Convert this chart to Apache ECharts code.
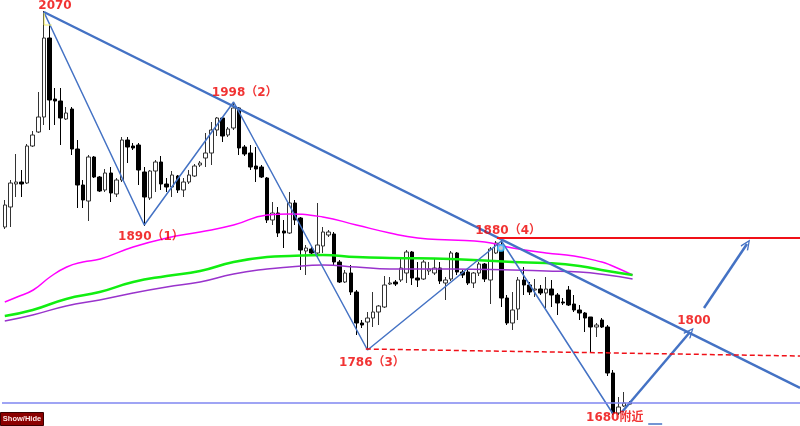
<!DOCTYPE html>
<html><head><meta charset="utf-8">
<script src="https://cdn.jsdelivr.net/npm/echarts@6/dist/echarts.min.js"></script>
<style>html,body{margin:0;padding:0;background:#fff}#c{width:800px;height:426px}</style>
</head><body><div id="c"></div>
<script>
// OHLC candles: [open, close, low, high]
const candles = [
[1855,1877,1853,1882],[1875,1899,1855,1902],[1898,1900,1885,1928],[1900,1898,1885,1912],[1899,1936,1898,1938],
[1936,1947,1935,1951],[1950,1965,1949,1990],[1965,2044,1957,2071],[2044,1982,1952,2057],[1983,1981,1957,1994],
[1981,1964,1937,1994],[1963,1969,1962,1975],[1973,1933,1927,1975],[1933,1897,1874,1942],[1897,1882,1874,1902],
[1881,1925,1861,1927],[1925,1905,1904,1926],[1905,1891,1890,1906],[1892,1909,1890,1913],[1909,1889,1880,1915],
[1888,1902,1885,1904],[1902,1942,1900,1945],[1942,1935,1919,1945],[1936,1934,1932,1939],[1937,1912,1897,1939],
[1910,1885,1856,1915],[1884,1911,1882,1912],[1911,1920,1890,1922],[1920,1898,1892,1926],[1898,1895,1890,1904],
[1895,1907,1885,1911],[1906,1892,1889,1907],[1892,1900,1885,1904],[1900,1907,1898,1912],[1906,1916,1905,1918],
[1917,1919,1915,1921],[1924,1929,1915,1949],[1929,1952,1917,1960],[1952,1964,1946,1965],[1964,1946,1940,1965],
[1947,1953,1945,1955],[1954,1974,1952,1980],[1974,1934,1927,1975],[1935,1928,1926,1937],[1929,1915,1912,1937],
[1916,1913,1900,1935],[1915,1905,1904,1917],[1904,1862,1859,1905],[1862,1869,1857,1880],[1869,1849,1845,1875],
[1851,1849,1834,1862],[1849,1879,1848,1890],[1879,1862,1857,1882],[1864,1832,1812,1865],[1831,1834,1807,1837],
[1833,1829,1827,1835],[1829,1837,1824,1879],[1836,1850,1829,1855],[1847,1850,1845,1852],[1848,1820,1817,1850],
[1820,1800,1799,1822],[1800,1809,1799,1812],[1809,1790,1787,1817],[1790,1759,1747,1792],[1759,1757,1754,1762],
[1760,1764,1732,1770],[1764,1770,1755,1790],[1770,1776,1757,1777],[1775,1797,1774,1806],[1798,1799,1797,1805],
[1800,1798,1796,1802],[1802,1814,1800,1824],[1809,1830,1799,1832],[1830,1804,1797,1831],[1804,1802,1795,1820],
[1803,1820,1802,1822],[1811,1813,1807,1820],[1809,1814,1807,1823],[1814,1801,1798,1820],[1799,1802,1782,1805],
[1803,1829,1801,1831],[1829,1810,1807,1830],[1810,1807,1804,1812],[1810,1799,1797,1812],[1799,1809,1794,1810],
[1809,1818,1806,1820],[1818,1803,1800,1819],[1802,1833,1778,1835],[1829,1839,1828,1841],[1837,1784,1775,1843],
[1784,1759,1757,1787],[1759,1772,1752,1790],[1773,1802,1762,1805],[1802,1797,1787,1815],[1797,1790,1787,1800],
[1792,1793,1785,1803],[1793,1789,1787,1797],[1789,1793,1774,1805],[1793,1787,1775,1802],[1787,1779,1767,1789],
[1780,1779,1777,1784],[1792,1777,1776,1796],[1778,1772,1770,1787],[1772,1769,1762,1777],[1769,1764,1750,1770],
[1765,1755,1730,1765],[1755,1757,1745,1759],[1762,1755,1754,1764],[1755,1709,1706,1757],[1709,1669,1667,1712],
[1669,1675,1667,1685],[1676,1679,1675,1690],[1679,1678,1677,1681]
];
const totalSlots = 143;

// moving averages sampled along the bar index: [barIndex, price]
const maMagenta = [[0,1780],[2.2,1785],[5.1,1792],[8.1,1805],[11.1,1815],[14,1820],[17.1,1823],[23,1835],[29,1844],[35,1850],[41,1857],[47,1867],[51,1868],[57,1865],[63,1857],[69,1849],[74,1844],[80,1842],[86,1840],[91,1834],[97,1829],[102,1826],[107,1820],[108.5,1817],[112.5,1807]];
const maGreen = [[0,1766],[5,1772],[11,1783],[17,1790],[23,1800],[29,1806],[35,1811],[41,1820],[47,1825],[51,1826],[57,1827],[63,1825],[69,1824],[80,1823],[91,1820],[97,1819],[103,1816],[108,1811],[112.5,1807]];
const maPurple = [[0,1761],[5,1767],[11,1776],[17,1782],[23,1789],[29,1795],[35,1800],[41,1808],[47,1813],[51,1815],[57,1817],[63,1815],[69,1813],[80,1813],[91,1812],[97,1811],[103,1810],[108,1807],[112.5,1803]];

// analysis drawings: [barIndex, price]
const zigzag = [[7,2070],[25,1857],[41,1980],[65,1732],[89,1841],[109,1668]];
const trendLine = [[7,2070],[142.5,1694]];
const resistance = [[88.2,1844],[142.5,1844]];
const dashedSupport = [[64.7,1733],[142.5,1726]];
const bottomLine = [[-0.5,1679],[142.5,1679]];
const arrows = [[[110.6,1670],[122.8,1750]],[[125.3,1774],[133.0,1838]]];
const topMark = [[7.05,2069],[7.05,2057],[8.4,2057]];
const peakCircle = [[88.9,1834]];
const stub = [[115.3,1658],[117.8,1658]];
const labels = [
  {name:'2070', value:[9.0,2076]},
  {name:'1998（2）', value:[43.0,1989]},
  {name:'1890（1）', value:[26.2,1845]},
  {name:'1880（4）', value:[90.2,1851]},
  {name:'1786（3）', value:[65.8,1719]},
  {name:'1800', value:[123.5,1761]},
  {name:'1680附近', value:[109.3,1664]}
];

const cats = Array.from({length: totalSlots}, (_, i) => String(i));
const BLUE = '#4472c4', RED = '#f01018';
const lineS = (data, color, width, extra) => Object.assign({
  type:'line', xAxisIndex:1, data, symbol:'none', silent:true, animation:false,
  lineStyle:{color, width}, z:5
}, extra || {});

const chart = echarts.init(document.getElementById('c'), null, {renderer:'canvas'});
chart.setOption({
  animation:false,
  grid:{left:2, right:0, top:0, bottom:0},
  xAxis:[
    {type:'category', data:cats, show:false, boundaryGap:true},
    {type:'value', min:-0.5, max:totalSlots-0.5, show:false}
  ],
  yAxis:{type:'value', min:1656, max:2082, show:false},
  series:[
    {type:'candlestick', data:candles, barWidth:4, z:3,
     itemStyle:{color:'#ffffff', color0:'#000000', borderColor:'#333333', borderColor0:'#000000', borderWidth:1}},
    lineS(maMagenta, '#ff00ff', 1.5, {smooth:true}),
    lineS(maGreen, '#11ee11', 2.5, {smooth:true}),
    lineS(maPurple, '#9933cc', 1.5, {smooth:true}),
    lineS(zigzag, BLUE, 1.5),
    lineS(trendLine, BLUE, 2.5),
    lineS(resistance, RED, 2),
    lineS(dashedSupport, RED, 1.5, {lineStyle:{color:RED, width:1.5, type:[5,3]}}),
    lineS(bottomLine, '#7f86f0', 1.5),
    lineS(topMark, '#f5f060', 1),
    lineS(stub, BLUE, 1.5),
    {type:'line', xAxisIndex:1, data:[], silent:true,
     markLine:{silent:true, animation:false,
       symbol:['none','path://M0,0 L6,10 L4.6,11 L0,3 L-4.6,11 L-6,10 Z'], symbolSize:[9,11],
       lineStyle:{color:BLUE, width:2.5, type:'solid'}, label:{show:false},
       data: arrows.map(a => [{coord:a[0]},{coord:a[1]}])}},
    {type:'scatter', xAxisIndex:1, data:peakCircle, symbol:'emptyCircle', symbolSize:6,
     itemStyle:{color:'#33bbff', borderWidth:1}, z:6, silent:true},
    {type:'scatter', xAxisIndex:1, data:labels, symbolSize:1, itemStyle:{color:'rgba(0,0,0,0)'}, z:10, silent:true,
     label:{show:true, position:'inside', formatter:'{b}', color:'#ee0000', fontWeight:'bold', fontSize:12,
            textBorderWidth:0, textBorderColor:'transparent',
            fontFamily:"'DejaVu Sans','Noto Sans CJK SC',sans-serif"}}
  ],
  graphic:[
    {type:'group', left:0, top:412, children:[
      {type:'rect', shape:{x:0, y:0, width:43, height:13}, style:{fill:'#8b0000', stroke:'#3a0000', lineWidth:1}},
      {type:'text', x:21.5, y:6.5, style:{text:'Show/Hide', fill:'#ffe8e8', font:"bold 7.5px 'Liberation Sans', sans-serif", align:'center', verticalAlign:'middle'}}
    ]}
  ]
});
</script></body></html>
